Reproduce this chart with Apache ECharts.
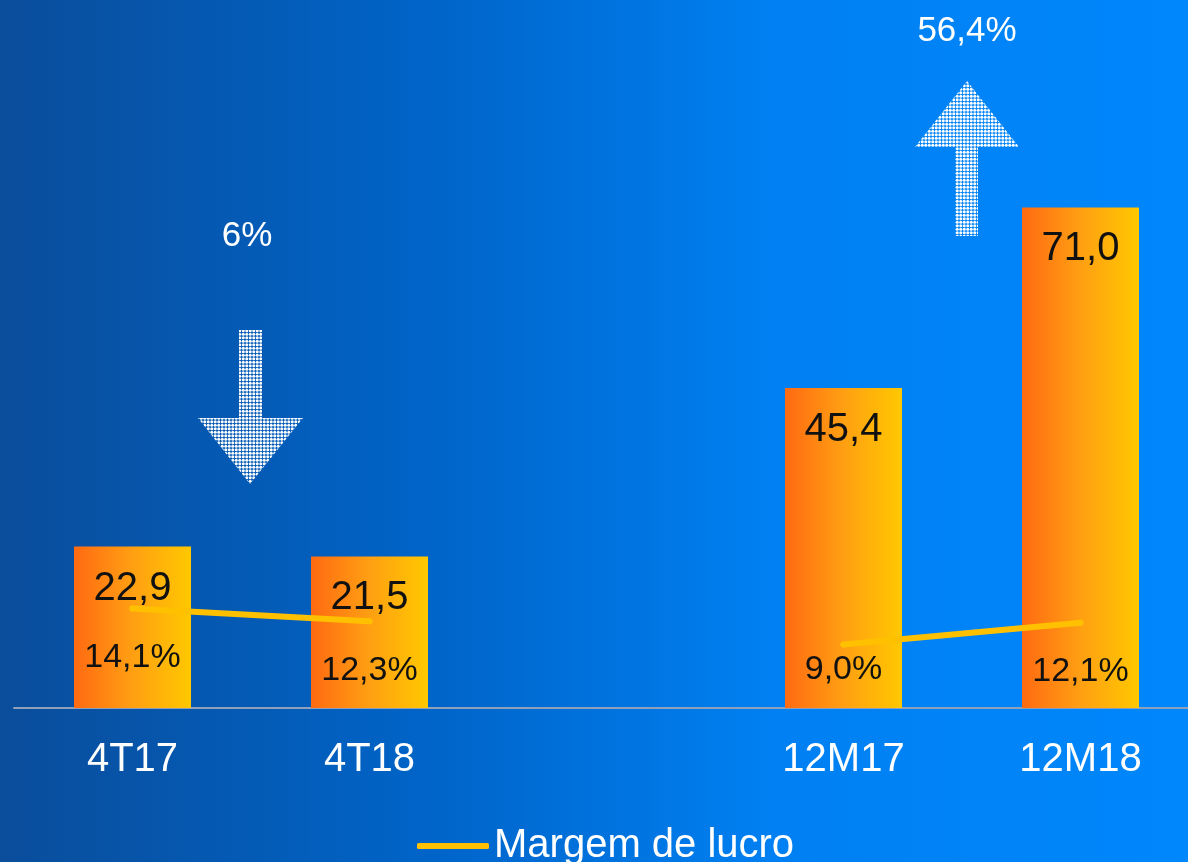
<!DOCTYPE html>
<html>
<head>
<meta charset="utf-8">
<script src="https://cdn.jsdelivr.net/npm/echarts@6/dist/echarts.min.js"></script>
<style>
html,body{margin:0;padding:0;}
#main{width:1188px;height:862px;}
</style>
</head>
<body>
<div id="main"></div>
<script>
// 数据
var categories = ['4T17', '4T18', '', '12M17', '12M18'];
var lucroValues = [22.9, 21.5, null, 45.4, 71.0];
var margemValues = [14.1, 12.3, null, 9.0, 12.1];
var variacaoLabels = ['6%', '56,4%'];

var FONT = "'Liberation Sans', Arial, sans-serif";
var YELLOW = '#ffc000';

function fmt(v, suffix){
	return v.toFixed(1).replace('.', ',') + (suffix || '');
}

// 点阵纹理（箭头）
function makeDots(){
	var c = document.createElement('canvas');
	c.width = 7;
	c.height = 7;
	var ctx = c.getContext('2d');
	ctx.fillStyle = '#ffffff';
	for(var i = 0; i < 2; i++){
		for(var j = 0; j < 2; j++){
			ctx.beginPath();
			ctx.arc(1.75 + i * 3.5, 1.75 + j * 3.5, 1.5, 0, Math.PI * 2);
			ctx.fill();
		}
	}
	return {image: c, repeat: 'repeat'};
}
var dots = makeDots();

// 折线标签位置（12M17 标签贴近折线）
var margemData = [];
for(var i = 0; i < margemValues.length; i++){
	var item = {value: margemValues[i]};
	if(categories[i] == '12M17'){
		item.label = {distance: 5};
	}
	margemData.push(item);
}

var myChart = echarts.init(document.getElementById('main'));
var option = {
	backgroundColor: {
		type: 'linear', x: 0, y: 0, x2: 1, y2: 0,
		colorStops: [
			{offset: 0, color: '#0a4d9b'},
			{offset: 0.36, color: '#0064c8'},
			{offset: 0.65, color: '#0080f2'},
			{offset: 1, color: '#0087fb'}
		]
	},
	animation: false,
	grid: {left: 14, right: -11, top: 3, bottom: 154, containLabel: false, outerBoundsMode: 'none'},
	legend: {
		data: ['Margem de lucro'],
		left: 417,
		top: 826,
		padding: 0,
		icon: 'roundRect',
		itemWidth: 72,
		itemHeight: 6,
		itemGap: 6,
		textStyle: {color: '#ffffff', fontSize: 40, fontFamily: FONT}
	},
	xAxis: {
		type: 'category',
		data: categories,
		axisLine: {lineStyle: {color: '#8fa0b8', width: 2}},
		axisTick: {show: false},
		axisLabel: {color: '#ffffff', fontSize: 40, fontFamily: FONT, margin: 32}
	},
	yAxis: {
		type: 'value',
		min: 0,
		max: 100,
		show: false,
		splitLine: {show: false}
	},
	series: [
		{
			name: 'Lucro',
			type: 'bar',
			data: lucroValues,
			barWidth: 117,
			itemStyle: {
				color: {
					type: 'linear', x: 0, y: 0, x2: 1, y2: 0,
					colorStops: [
						{offset: 0, color: '#ff6a12'},
						{offset: 0.5, color: '#ff9f12'},
						{offset: 1, color: '#ffc800'}
					]
				}
			},
			label: {
				show: true,
				position: 'insideTop',
				distance: 22,
				color: '#111111',
				fontSize: 40,
				fontFamily: FONT,
				formatter: function(p){ return fmt(p.value); }
			}
		},
		{
			name: 'Margem de lucro',
			type: 'line',
			data: margemData,
			connectNulls: false,
			symbol: 'circle',
			symbolSize: 6,
			itemStyle: {color: YELLOW},
			lineStyle: {color: YELLOW, width: 6, cap: 'round'},
			z: 5,
			label: {
				show: true,
				position: 'bottom',
				distance: 29,
				color: '#111111',
				fontSize: 34,
				fontFamily: FONT,
				formatter: function(p){ return fmt(p.value, '%'); }
			}
		}
	],
	graphic: [
		{
			type: 'polygon',
			shape: {points: [[239,330],[262,330],[262,418],[303,418],[250,484],[198,418],[239,418]]},
			style: {fill: dots}
		},
		{
			type: 'polygon',
			shape: {points: [[967,81],[1019,147],[978,147],[978,236],[955,236],[955,147],[915,147]]},
			style: {fill: dots}
		},
		{
			type: 'text',
			x: 247, y: 236,
			style: {text: variacaoLabels[0], fill: '#ffffff', fontSize: 35, fontFamily: FONT, align: 'center', verticalAlign: 'middle'}
		},
		{
			type: 'text',
			x: 967, y: 31,
			style: {text: variacaoLabels[1], fill: '#ffffff', fontSize: 35, fontFamily: FONT, align: 'center', verticalAlign: 'middle'}
		}
	]
};
myChart.setOption(option);
</script>
</body>
</html>
